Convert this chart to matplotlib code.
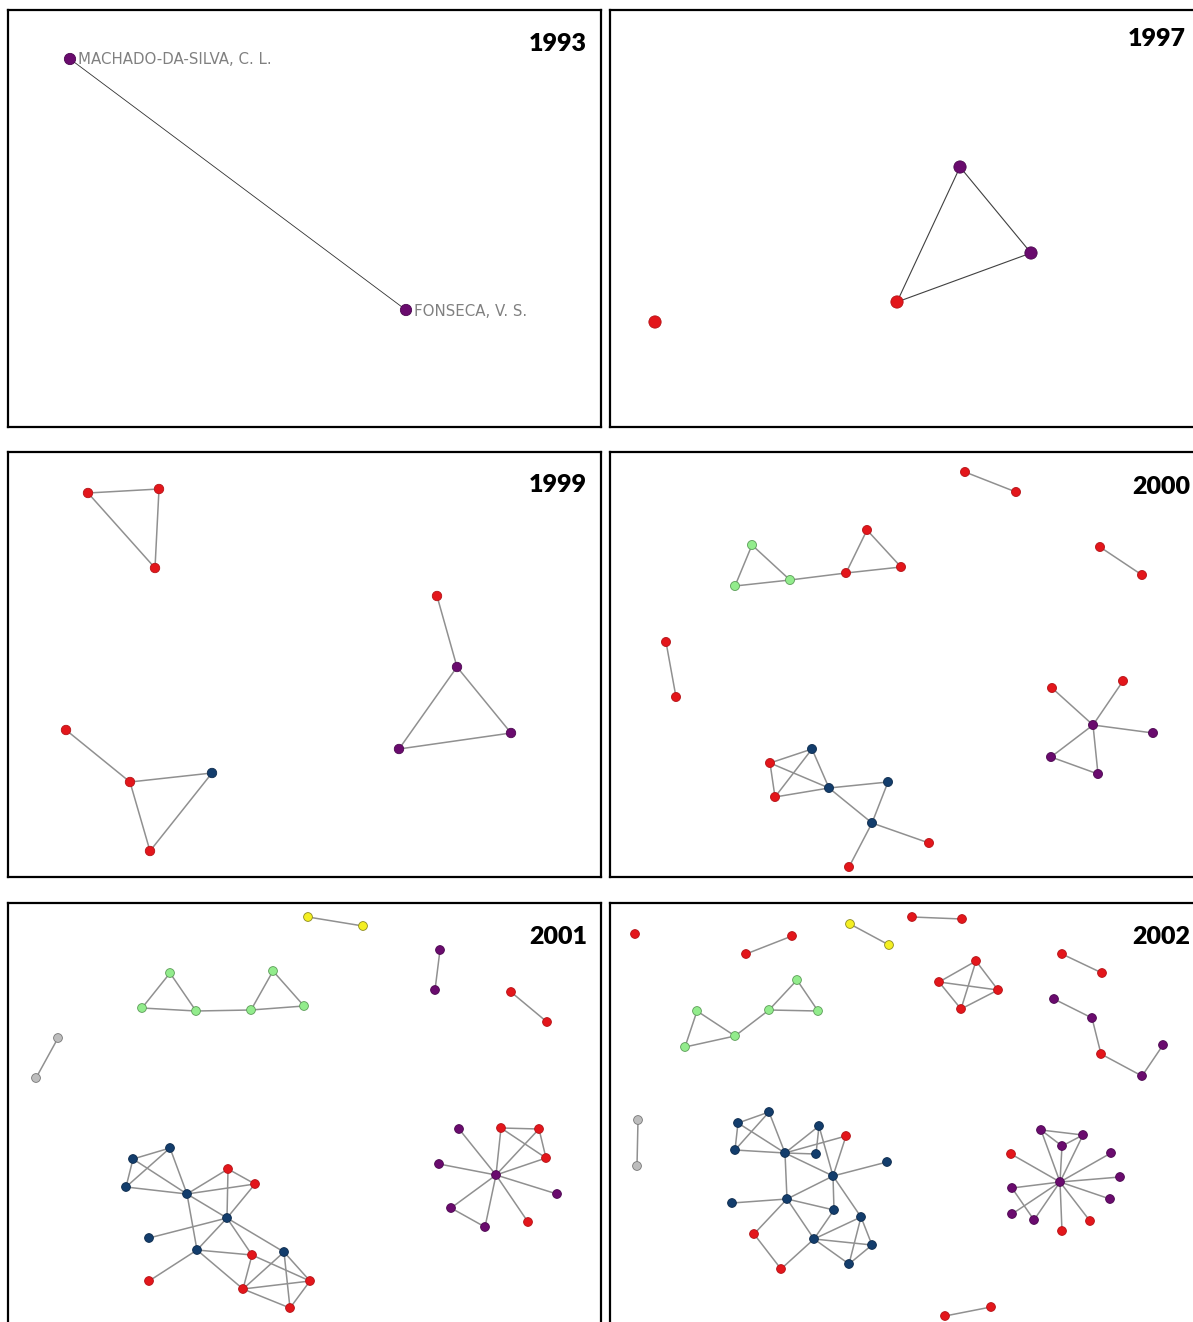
import matplotlib.pyplot as plt

W, H = 1193, 1322

# colour codes for the node groups
colors = {'r': '#e3161b', 'n': '#133d6c', 'p': '#6a0b6e',
          'g': '#92ec8c', 'y': '#f4ef22', 'k': '#bdbdbd'}
edge_cols = {'r': '#b51216', 'n': '#0d2b4d', 'p': '#4c0850',
             'g': '#5c9c58', 'y': '#8c8a20', 'k': '#777777'}

# ---- 1993 ----
nodes_1993 = [(70, 59, 'p'), (406, 310, 'p')]
edges_1993 = [(0, 1)]
labels_1993 = ['MACHADO-DA-SILVA, C. L.', 'FONSECA, V. S.']

# ---- 1997 ----
nodes_1997 = [(960, 167, 'p'), (1031, 253, 'p'), (897, 302, 'r'), (655, 322, 'r')]
edges_1997 = [(0, 1), (0, 2), (1, 2)]

# ---- 1999 ----
nodes_1999 = [(88, 493, 'r'), (159, 489, 'r'), (155, 568, 'r'),
              (437, 596, 'r'), (457, 667, 'p'), (399, 749, 'p'), (511, 733, 'p'),
              (66, 730, 'r'), (130, 782, 'r'), (212, 773, 'n'), (150, 851, 'r')]
edges_1999 = [(0, 1), (0, 2), (1, 2), (3, 4), (4, 5), (4, 6), (5, 6),
              (7, 8), (8, 9), (8, 10), (9, 10)]

# ---- 2000 ----
nodes_2000 = [(965, 472, 'r'), (1016, 492, 'r'),
              (1100, 547, 'r'), (1142, 575, 'r'),
              (752, 545, 'g'), (735, 586, 'g'), (790, 580, 'g'),
              (846, 573, 'r'), (867, 530, 'r'), (901, 567, 'r'),
              (666, 642, 'r'), (676, 697, 'r'),
              (1093, 725, 'p'), (1052, 688, 'r'), (1123, 681, 'r'),
              (1153, 733, 'p'), (1051, 757, 'p'), (1098, 774, 'p'),
              (812, 749, 'n'), (770, 763, 'r'), (775, 797, 'r'), (829, 788, 'n'),
              (888, 782, 'n'), (872, 823, 'n'), (929, 843, 'r'), (849, 867, 'r')]
edges_2000 = [(0, 1), (2, 3), (4, 5), (4, 6), (5, 6), (6, 7), (7, 8), (8, 9), (7, 9),
              (10, 11), (12, 13), (12, 14), (12, 15), (12, 16), (12, 17), (16, 17),
              (19, 18), (19, 20), (19, 21), (20, 18), (20, 21), (18, 21), (21, 22),
              (22, 23), (21, 23), (23, 24), (23, 25)]

# ---- 2001 ----
nodes_2001 = [(308, 917, 'y'), (363, 926, 'y'),
              (170, 973, 'g'), (142, 1008, 'g'), (196, 1011, 'g'),
              (251, 1010, 'g'), (273, 971, 'g'), (304, 1006, 'g'),
              (58, 1038, 'k'), (36, 1078, 'k'),
              (440, 950, 'p'), (435, 990, 'p'),
              (511, 992, 'r'), (547, 1022, 'r'),
              (496, 1175, 'p'), (459, 1129, 'p'), (501, 1128, 'r'), (539, 1129, 'r'),
              (546, 1158, 'r'), (439, 1164, 'p'), (557, 1194, 'p'), (528, 1222, 'r'),
              (485, 1227, 'p'), (451, 1208, 'p'),
              (170, 1148, 'n'), (133, 1159, 'n'), (126, 1187, 'n'), (187, 1194, 'n'),
              (228, 1169, 'r'), (255, 1184, 'r'), (227, 1218, 'n'), (149, 1238, 'n'),
              (197, 1250, 'n'), (149, 1281, 'r'), (252, 1255, 'r'), (284, 1252, 'n'),
              (243, 1289, 'r'), (290, 1308, 'r'), (310, 1281, 'r')]
edges_2001 = [(0, 1), (2, 3), (2, 4), (3, 4), (4, 5), (5, 6), (6, 7), (5, 7),
              (8, 9), (10, 11), (12, 13),
              (14, 15), (14, 16), (14, 17), (14, 18), (14, 19), (14, 20), (14, 21),
              (14, 22), (14, 23), (16, 17), (16, 18), (17, 18), (22, 23),
              (24, 25), (24, 26), (25, 26), (25, 27), (26, 27), (24, 27), (27, 28),
              (27, 29), (28, 29), (28, 30), (29, 30), (27, 30), (27, 32), (30, 31),
              (30, 32), (30, 34), (30, 35), (32, 33), (32, 34), (32, 36), (34, 36),
              (34, 38), (35, 36), (35, 37), (35, 38), (36, 37), (36, 38), (37, 38)]

# ---- 2002 ----
nodes_2002 = [(635, 934, 'r'),
              (746, 954, 'r'), (792, 936, 'r'),
              (850, 924, 'y'), (889, 945, 'y'),
              (912, 917, 'r'), (962, 919, 'r'),
              (697, 1011, 'g'), (685, 1047, 'g'), (735, 1036, 'g'),
              (769, 1010, 'g'), (797, 980, 'g'), (818, 1011, 'g'),
              (638, 1120, 'k'), (637, 1166, 'k'),
              (976, 961, 'r'), (939, 982, 'r'), (998, 990, 'r'), (961, 1009, 'r'),
              (1062, 954, 'r'), (1102, 973, 'r'),
              (1054, 999, 'p'), (1092, 1018, 'p'), (1101, 1054, 'r'),
              (1142, 1076, 'p'), (1163, 1045, 'p'),
              (1060, 1182, 'p'), (1041, 1130, 'p'), (1083, 1135, 'p'), (1062, 1146, 'p'),
              (1011, 1154, 'r'), (1111, 1153, 'p'), (1120, 1177, 'p'), (1012, 1188, 'p'),
              (1110, 1199, 'p'), (1012, 1214, 'p'), (1034, 1220, 'p'), (1090, 1221, 'r'),
              (1062, 1231, 'r'),
              (945, 1316, 'r'), (991, 1307, 'r'),
              (769, 1112, 'n'), (738, 1123, 'n'), (735, 1150, 'n'), (785, 1153, 'n'),
              (819, 1126, 'n'), (846, 1136, 'r'), (816, 1154, 'n'), (833, 1176, 'n'),
              (887, 1162, 'n'), (732, 1203, 'n'), (787, 1199, 'n'), (834, 1210, 'n'),
              (861, 1217, 'n'), (754, 1234, 'r'), (814, 1239, 'n'), (872, 1245, 'n'),
              (849, 1264, 'n'), (781, 1269, 'r')]
edges_2002 = [(1, 2), (3, 4), (5, 6), (7, 8), (7, 9), (8, 9), (9, 10), (10, 11),
              (10, 12), (11, 12), (13, 14),
              (15, 16), (15, 17), (15, 18), (16, 17), (16, 18), (17, 18), (19, 20),
              (21, 22), (22, 23), (23, 24), (24, 25),
              (26, 27), (26, 28), (26, 29), (26, 30), (26, 31), (26, 32), (26, 33),
              (26, 34), (26, 35), (26, 36), (26, 37), (26, 38),
              (27, 28), (27, 29), (28, 29), (33, 36), (39, 40),
              (41, 42), (42, 43), (41, 43), (42, 44), (43, 44), (41, 44), (44, 45),
              (44, 46), (44, 47), (45, 47), (45, 48), (44, 48), (46, 48), (48, 49),
              (44, 51), (48, 51), (48, 52), (48, 53), (50, 51), (51, 52), (51, 54),
              (51, 55), (52, 55), (54, 58), (58, 55), (55, 53), (55, 56), (55, 57),
              (53, 56), (53, 57), (56, 57)]

# panel box (x0, x1, y0, y1), open sides, title anchor, node size, edge style
panels = [
    ('1993', (8, 601, 10, 427), [], (587, 44), nodes_1993, edges_1993, 66, ('#303030', 0.6)),
    ('1997', (610, 1193, 10, 427), ['right'], (1186, 39), nodes_1997, edges_1997, 78, ('#404040', 0.8)),
    ('1999', (8, 601, 452, 877), [], (587, 485), nodes_1999, edges_1999, 46, ('#909090', 1.1)),
    ('2000', (610, 1193, 452, 877), ['right'], (1190, 487), nodes_2000, edges_2000, 42, ('#909090', 1.1)),
    ('2001', (8, 601, 903, 1322), ['bottom'], (587, 937), nodes_2001, edges_2001, 40, ('#909090', 1.1)),
    ('2002', (610, 1193, 903, 1322), ['right', 'bottom'], (1190, 937), nodes_2002, edges_2002, 40, ('#909090', 1.1)),
]

fig = plt.figure(figsize=(W / 100, H / 100), dpi=100)
fig.patch.set_facecolor('white')

for year, (x0, x1, y0, y1), open_sides, (tx, ty), nodes, edges, size, (ecol, elw) in panels:
    ax = fig.add_axes([x0 / W, 1 - y1 / H, (x1 - x0) / W, (y1 - y0) / H])
    ax.set_xlim(x0, x1)
    ax.set_ylim(y1, y0)
    ax.set_xticks([])
    ax.set_yticks([])
    for side, sp in ax.spines.items():
        sp.set_linewidth(1.6)
        sp.set_color('black')
        if side in open_sides:
            sp.set_visible(False)

    for i, j in edges:
        ax.plot([nodes[i][0], nodes[j][0]], [nodes[i][1], nodes[j][1]],
                color=ecol, lw=elw, zorder=1, solid_capstyle='round')

    xs = [n[0] for n in nodes]
    ys = [n[1] for n in nodes]
    ax.scatter(xs, ys, s=size, c=[colors[n[2]] for n in nodes],
               edgecolors=[edge_cols[n[2]] for n in nodes], linewidths=0.6, zorder=3)

    if year == '1993':
        for (x, y, _), lab in zip(nodes, labels_1993):
            ax.text(x + 8, y + 1, lab, fontsize=10.8, color='#808080',
                    va='center', ha='left', family='DejaVu Sans')

    ax.text(tx, ty, year, fontsize=18, fontweight='heavy', ha='right', va='center',
            family=['Lato', 'DejaVu Sans'], color='black')

fig.savefig('out.png', dpi=100, facecolor='white')
